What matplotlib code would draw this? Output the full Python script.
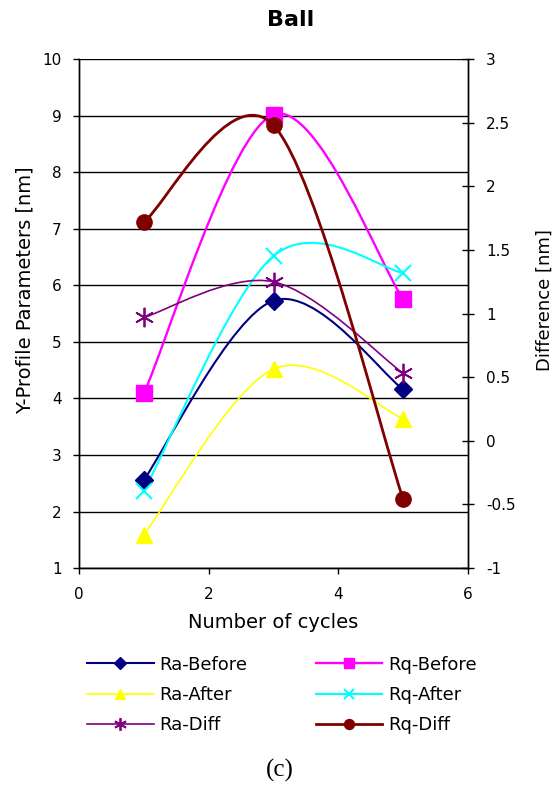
import numpy as np
import matplotlib
matplotlib.use("Agg")
import matplotlib.pyplot as plt
from matplotlib.path import Path
from matplotlib.patches import PathPatch
from matplotlib.lines import Line2D

plt.rcParams['font.family'] = ['DejaVu Sans']

# data
cycles = [1, 3, 5]
ra_before = [2.56, 5.73, 4.16]
rq_before = [4.09, 9.02, 5.75]
ra_after = [1.59, 4.52, 3.64]
rq_after = [2.36, 6.52, 6.22]
ra_diff = [0.97, 1.25, 0.53]
rq_diff = [1.72, 2.48, -0.46]

left_ticks = list(range(1, 11))
right_ticks = [-1, -0.5, 0, 0.5, 1, 1.5, 2, 2.5, 3]
x_ticks = [0, 2, 4, 6]


def smooth_path(xs, ys):
    """Excel-like smoothed line as a chain of cubic Bezier curves"""
    pts = np.column_stack([xs, ys]).astype(float)
    verts = [pts[0]]
    codes = [Path.MOVETO]
    n = len(pts)
    for i in range(n - 1):
        p0 = pts[i - 1] if i > 0 else pts[i]
        p1 = pts[i]
        p2 = pts[i + 1]
        p3 = pts[i + 2] if i + 2 < n else pts[i + 1]
        verts += [p1 + (p2 - p0) / 6, p2 - (p3 - p1) / 6, p2]
        codes += [Path.CURVE4] * 3
    return Path(verts, codes)


def draw_series(ax, ys, color, marker, ms, lw, mew=1.0):
    ax.add_patch(PathPatch(smooth_path(cycles, ys), facecolor='none',
                           edgecolor=color, lw=lw, zorder=3))
    ax.plot(cycles, ys, linestyle='none', marker=marker, ms=ms, color=color,
            mec=color, mew=mew, zorder=4)
    # legend proxy with a smaller marker
    return Line2D([], [], color=color, lw=lw, marker=marker, ms=ms * 0.65,
                  mec=color, mew=mew)


fig = plt.figure(figsize=(5.6, 7.89), dpi=100)
ax = fig.add_axes([0.141, 0.280, 0.695, 0.645])
ax2 = ax.twinx()

ax.set_xlim(0, 6)
ax.set_ylim(1, 10)
ax2.set_ylim(-1, 3)
ax.set_xticks(x_ticks)
ax.set_yticks(left_ticks)
ax2.set_yticks(right_ticks)
ax2.set_yticklabels([f"{t:g}" for t in right_ticks])

ax.grid(axis='y', color='black', lw=1.0)
ax.set_axisbelow(True)
ax.spines['top'].set_visible(False)
ax2.spines['top'].set_visible(False)
for a in (ax, ax2):
    for s in a.spines.values():
        s.set_linewidth(1.0)

ax.tick_params(axis='y', direction='out', length=4.5, width=1, labelsize=11, pad=8)
ax.tick_params(axis='x', direction='out', length=4.5, width=1, labelsize=11, pad=9)
ax2.tick_params(axis='y', direction='inout', length=8, width=1, labelsize=11, pad=9)

h_ra_b = draw_series(ax, ra_before, '#000080', 'D', 9, 1.5)
h_rq_b = draw_series(ax, rq_before, '#FF00FF', 's', 11, 1.7)
h_ra_a = draw_series(ax, ra_after, '#FFFF00', '^', 12, 1.2)
h_rq_a = draw_series(ax, rq_after, '#00FFFF', 'x', 12, 1.5, mew=1.5)
h_ra_d = draw_series(ax2, ra_diff, '#800080', (6, 2, 0), 14, 1.2, mew=1.3)
h_rq_d = draw_series(ax2, rq_diff, '#800000', 'o', 11, 2.0)

ax.set_xlabel("Number of cycles", fontsize=14, labelpad=8)
fig.text(25 / 560, 1 - 290 / 789, "Y-Profile Parameters [nm]", rotation=90,
         ha='center', va='center', fontsize=14)
fig.text(545 / 560, 1 - 300 / 789, "Difference [nm]", rotation=90,
         ha='center', va='center', fontsize=13)
fig.text(291 / 560, 1 - 20 / 789, "Ball", ha='center', va='center',
         fontsize=16, fontweight='bold')

handles = [h_ra_b, h_ra_a, h_ra_d, h_rq_b, h_rq_a, h_rq_d]
labels = ["Ra-Before", "Ra-After", "Ra-Diff", "Rq-Before", "Rq-After", "Rq-Diff"]
fig.legend(handles, labels, ncol=2, loc='upper left', bbox_to_anchor=(0.155, 0.169),
           frameon=False, fontsize=13, handlelength=3.7, handletextpad=0.3,
           columnspacing=3.8, labelspacing=0.68, borderpad=0, borderaxespad=0)

fig.text(280 / 560, 1 - 770 / 789, "(c)", ha='center', va='center', fontsize=18,
         family=['Liberation Serif', 'DejaVu Serif'])

fig.savefig("out.png", dpi=100)
